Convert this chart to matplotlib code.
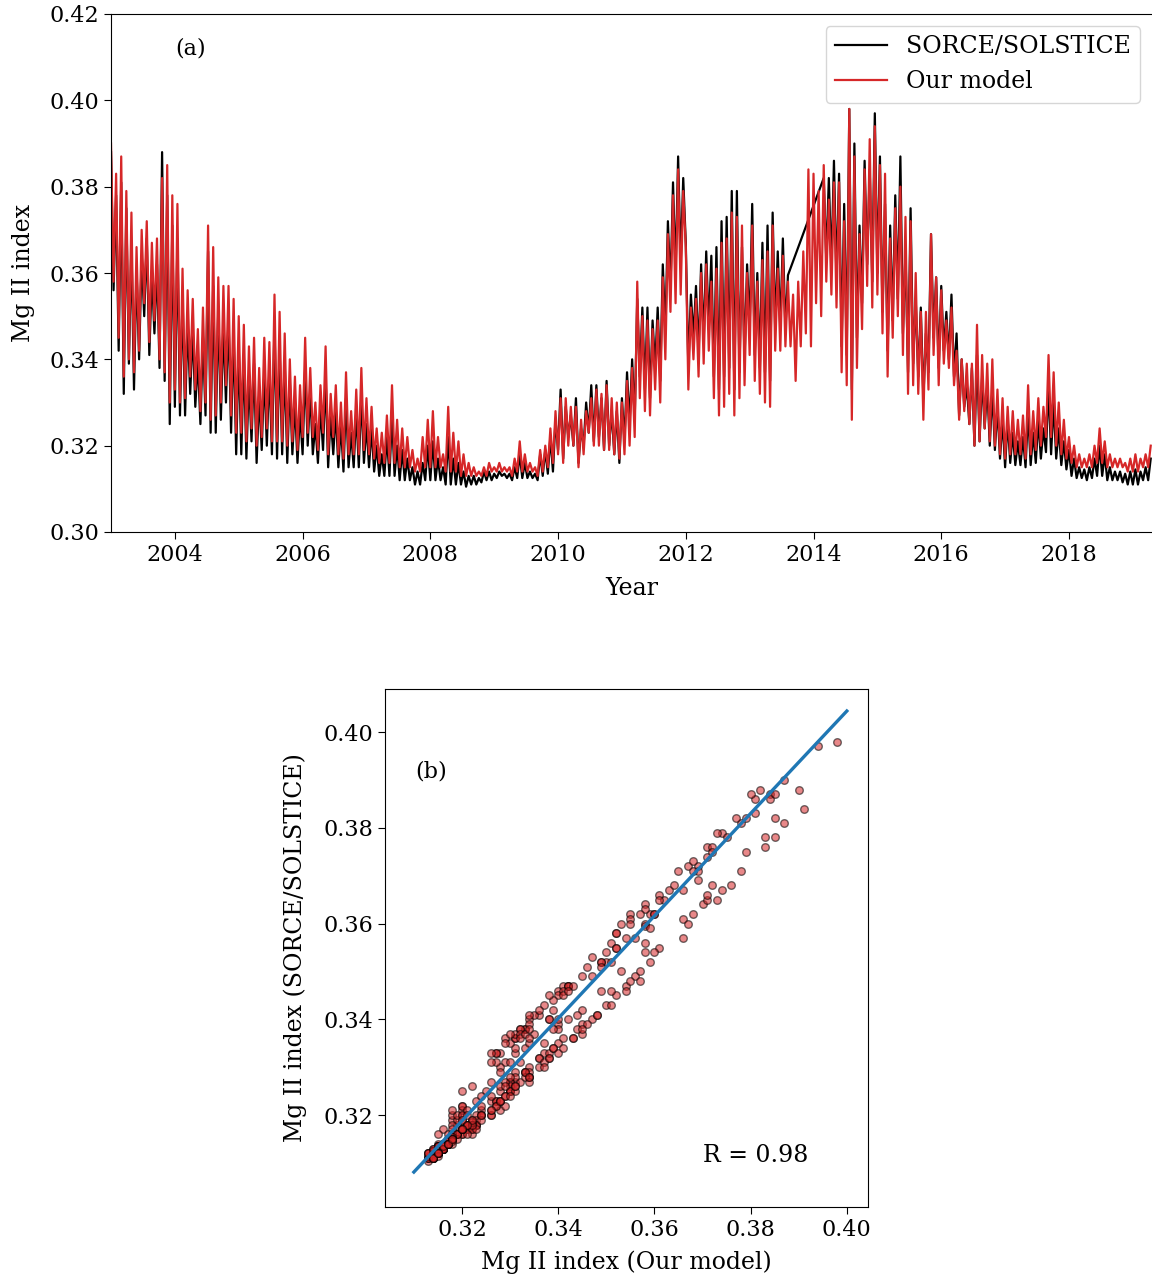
import numpy as np
import matplotlib
matplotlib.use("Agg")
import matplotlib.pyplot as plt

plt.rcParams['font.family'] = ['DejaVu Serif']

# ---------------- data (Mg II index x 1000), sampled every 0.04 yr from 2003.0 ----------------
T_START = 2003.0
T_STEP = 0.04

MODEL_BY_YEAR = [
    [390,358,383,345,387,336,379,340,374,337,366,342,370,353,372,344,367,349,368,340,382,337,385,330,378],  # 2003
    [333,376,330,361,331,356,336,354,333,347,328,352,330,371,326,366,327,359,330,357,334,357,327,354,323],  # 2004
    [350,323,348,321,343,324,345,320,338,322,345,324,344,321,355,321,351,321,346,320,340,321,336,319,334],  # 2005
    [322,345,323,338,322,330,319,334,323,343,318,332,322,334,318,330,317,337,318,328,318,333,318,338,319],  # 2006
    [331,318,329,317,324,316,323,316,327,316,334,316,326,315,324,315,322,315,319,314,317,314,322,315,326],  # 2007
    [315,328,315,322,315,318,314,329,314,323,314,321,313,318,313,316,313,315,313,314,313,315,313,316,314],  # 2008
    [315,314,316,314,315,314,315,313,317,314,321,314,318,314,316,314,315,313,319,314,320,315,324,316,328],  # 2009
    [318,331,316,331,320,329,320,329,315,326,318,328,323,331,320,333,320,332,319,334,319,331,318,330,317],  # 2010
    [330,318,335,320,338,322,358,331,350,328,349,327,347,333,349,330,359,340,369,351,378,353,384,355,379],  # 2011
    [366,333,352,340,354,336,360,339,362,342,358,331,361,327,367,329,368,332,374,327,373,331,371,334,360],  # 2012
    [341,371,335,358,332,363,330,365,329,371,342,361,342,364,343,358,343,355,335,358,343,365,346,384,343],  # 2013
    [383,353,379,350,385,358,377,355,381,352,381,337,372,334,398,326,387,338,369,347,384,357,391,352,394],  # 2014
    [355,385,346,383,336,368,345,375,350,380,341,373,332,372,334,360,332,351,326,351,333,369,341,359,334],  # 2015
    [356,339,349,338,352,334,342,326,340,328,339,325,339,320,348,321,341,324,339,321,340,320,333,318,331],  # 2016
    [317,329,318,328,318,326,318,327,317,334,318,328,319,331,320,329,322,341,322,337,320,330,318,326,317],  # 2017
    [322,316,320,315,318,315,317,315,318,315,320,316,324,316,321,315,318,315,317,315,317,315,316,314,317],  # 2018
    [314,318,314,317,315,318,315,320],                                                                      # 2019
]

SORCE_BY_YEAR = [
    [388,356,378,342,381,332,375,339,367,333,361,340,364,350,368,341,360,346,362,338,388,335,378,325,371],  # 2003
    [329,368,327,355,327,349,332,347,329,340,325,345,327,365,323,357,323,352,326,348,330,350,323,346,318],  # 2004
    [343,318,341,317,336,321,339,316,332,319,337,320,338,318,348,317,343,318,339,316,335,318,330,316,328],  # 2005
    [318,338,320,333,318,325,316,329,319,336,315,327,318,328,315,325,314,331,315,323,315,328,315,332,316],  # 2006
    [325,315,324,314,320,313,318,313,322,313,327,313,320,312,319,312,317,312,315,311,314,311,316,312,320],  # 2007
    [312,321,312,317,312,315,311,322,311,317,311,316,311,314,310.5,313,311,313,311,312.5,311.5,314,312,314,312],  # 2008
    [313.5,312.5,314,313,313.5,312.5,313.5,312,315,312.5,318,312.5,316,312.5,314,312.5,313.5,312,318,313,319,313.5,322,314,326],  # 2009
    [319,333,317,329,322,327,320,331,316,324,320,330,323,334,321,334,322,331,319,335,320,328,318,328,316],  # 2010
    [331,321,337,325,340,326,354,336,352,333,352,331,349,338,352,335,362,346,372,356,381,360,387,362,382],  # 2011
    [367,338,355,345,357,341,362,344,365,347,364,336,366,333,372,336,373,338,379,333,379,337,366,340,362],  # 2012
    [347,376,341,360,338,367,337,371,335,374,347,365,347,368,347,359.5,None,None,None,None,None,None,None,None,None],  # 2013
    [None,None,None,None,382,363,382,361,386,358,383,343,376,341,398,333,390,345,371,353,386,362,384,358,397],  # 2014
    [360,387,351,376,342,371,349,378,354,387,346,365,337,375,339,354,336,352,331,346,337,369,345,359,338],  # 2015
    [357,342,351,340,355,336,346,327,340,329,334,325,338,320,341,321,336,324,334,320,333,319,329,317,326],  # 2016
    [315,326,316,323,315.5,321,315.5,322,315,328,315.5,323,316,326,317,324,318.5,334,318,330,317,324,315.5,321,314.5],  # 2017
    [319,313,317,312.5,315,312.5,314.5,312,315,312.5,317,313,320,313,318,312,315,312,314,312,314,311.5,313.5,311,314],  # 2018
    [311,314.5,311,314,312,315,312,317],  # 2019
]

# regression line
FIT_MODEL = [0.310, 0.400]
FIT_SORCE = [0.3081, 0.4044]

R_TEXT = "R = 0.98"

YEAR_TICKS = [2004, 2006, 2008, 2010, 2012, 2014, 2016, 2018]
TOP_YTICKS = [0.30, 0.32, 0.34, 0.36, 0.38, 0.40, 0.42]
SCAT_TICKS = [0.32, 0.34, 0.36, 0.38, 0.40]

# ---------------- assemble ----------------
model = np.array([v for yr in MODEL_BY_YEAR for v in yr], dtype=float) / 1000.0
sorce = np.array([np.nan if v is None else v for yr in SORCE_BY_YEAR for v in yr], dtype=float) / 1000.0
t = T_START + T_STEP * np.arange(len(model))
ok = ~np.isnan(sorce)

RED = '#d62728'
BLUE = '#1f77b4'

fig = plt.figure(figsize=(11.52, 12.8), dpi=100)

# ---------------- panel (a) ----------------
ax = fig.add_axes([111/1152, 1 - 532/1280, (1152 - 111)/1152, (532 - 14)/1280])
ax.plot(t[ok], sorce[ok], color='k', lw=1.6, label='SORCE/SOLSTICE')
ax.plot(t, model, color=RED, lw=1.6, label='Our model')
ax.set_xlim(2003.0, 2019.3)
ax.set_ylim(0.30, 0.42)
ax.set_xticks(YEAR_TICKS)
ax.set_xticklabels([str(y) for y in YEAR_TICKS])
ax.set_yticks(TOP_YTICKS)
ax.set_yticklabels([f"{v:.2f}" for v in TOP_YTICKS])
ax.tick_params(labelsize=16, length=5)
ax.set_xlabel('Year', fontsize=17, labelpad=8)
ax.set_ylabel('Mg II index', fontsize=17, labelpad=10)
ax.spines['right'].set_visible(False)
ax.text(0.0615, 0.934, '(a)', transform=ax.transAxes, fontsize=16, ha='left', va='center')
leg = ax.legend(loc='upper right', fontsize=17, handlelength=2.2, borderaxespad=0.5)

# ---------------- panel (b) ----------------
ax2 = fig.add_axes([385/1152, 1 - 1207/1280, (868 - 385)/1152, (1207 - 689)/1280])
ax2.scatter(model[ok], sorce[ok], s=30, facecolor=RED, alpha=0.55,
            edgecolors='k', linewidths=1.0, zorder=2)
ax2.plot(FIT_MODEL, FIT_SORCE, color=BLUE, lw=2.4, zorder=3)
ax2.set_xlim(0.304, 0.4044)
ax2.set_ylim(0.3008, 0.409)
ax2.set_xticks(SCAT_TICKS)
ax2.set_xticklabels([f"{v:.2f}" for v in SCAT_TICKS])
ax2.set_yticks(SCAT_TICKS)
ax2.set_yticklabels([f"{v:.2f}" for v in SCAT_TICKS])
ax2.tick_params(labelsize=16, length=5)
ax2.set_xlabel('Mg II index (Our model)', fontsize=17, labelpad=7)
ax2.set_ylabel('Mg II index (SORCE/SOLSTICE)', fontsize=17, labelpad=12)
ax2.text(0.062, 0.84, '(b)', transform=ax2.transAxes, fontsize=16, ha='left', va='center')
ax2.text(0.658, 0.100, R_TEXT, transform=ax2.transAxes, fontsize=17, ha='left', va='center')

fig.savefig('out.png', dpi=100)
